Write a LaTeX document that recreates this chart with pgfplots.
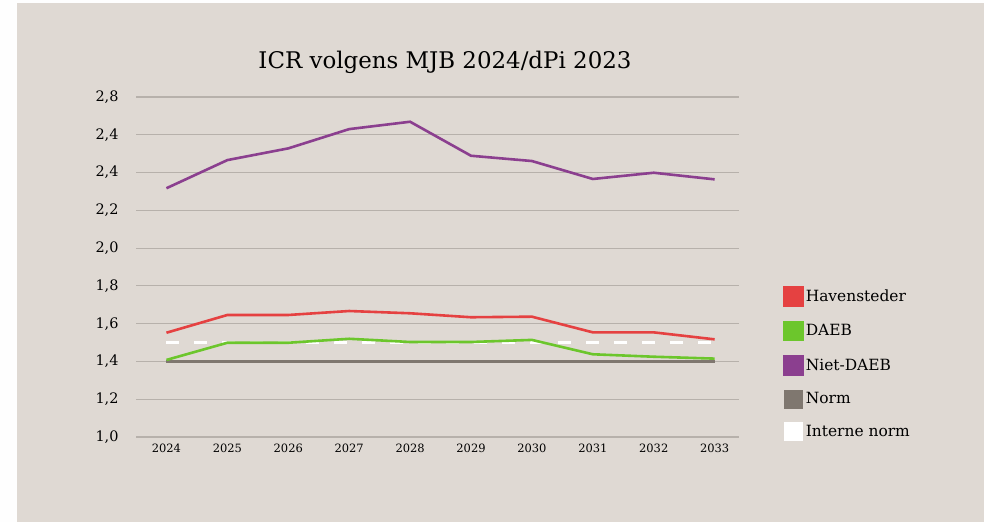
\documentclass[border=0pt]{standalone}
\usepackage{fontspec}
\setmainfont{DejaVu Serif}
\usepackage{pgfplots}
\pgfplotsset{compat=1.18}

\definecolor{bgpaper}{HTML}{DFD9D3}
\definecolor{havred}{HTML}{E54141}
\definecolor{daebgreen}{HTML}{6CC62C}
\definecolor{nietpurple}{HTML}{8B3F8F}
\definecolor{normgray}{HTML}{7F776F}
\definecolor{gridgray}{HTML}{B7B1AB}

\begin{document}
\begin{tikzpicture}[x=1bp,y=1bp]
% page and panel
\fill[white!97!bgpaper] (0,0) rectangle (984,-522);
\fill[bgpaper] (17,-3) rectangle (984,-522);

\node[font=\fontsize{23}{26}\selectfont] at (445,-62) {ICR volgens MJB 2024/dPi 2023};

\begin{axis}[
  at={(136bp,-437bp)}, anchor=south west,
  scale only axis,
  width=603bp, height=340bp,
  xmin=-0.5, xmax=9.4,
  ymin=1.0, ymax=2.8,
  xtick={0,...,9},
  xticklabels={2024,2025,2026,2027,2028,2029,2030,2031,2032,2033},
  ytick={1.0,1.2,1.4,1.6,1.8,2.0,2.2,2.4,2.6,2.8},
  yticklabels={{1,0},{1,2},{1,4},{1,6},{1,8},{2,0},{2,2},{2,4},{2,4},{2,8}},
  xticklabel style={font=\fontsize{11.5}{13}\selectfont, yshift=-3bp},
  yticklabel style={font=\fontsize{14.5}{16}\selectfont, xshift=-14bp},
  major tick length=0pt,
  axis x line*=bottom,
  axis y line*=left,
  x axis line style={gridgray, line width=1.2bp, -},
  y axis line style={draw=none},
  ymajorgrids,
  grid style={gridgray, line width=1.2bp},
  legend cell align=left,
  legend style={
    at={(1.073,0.445)}, anchor=north west,
    draw=none, fill=none,
    font=\fontsize{15.5}{17}\selectfont,
    row sep=14bp,
    inner sep=0pt,
  },
  legend image code/.code={\fill[#1, solid] (0bp,-9bp) rectangle (18bp,9bp);},
]
% Norm and interne norm, drawn underneath
\addplot[normgray, line width=3.5bp, forget plot] coordinates {
  (0,1.40) (1,1.40) (2,1.40) (3,1.40) (4,1.40) (5,1.40) (6,1.40) (7,1.40) (8,1.40) (9,1.40)
};
\addplot[white, line width=3bp, dash pattern=on 13bp off 15bp, forget plot] coordinates {
  (0,1.50) (1,1.50) (2,1.50) (3,1.50) (4,1.50) (5,1.50) (6,1.50) (7,1.50) (8,1.50) (9,1.50)
};

\addplot[havred, line width=2.6bp] coordinates {
  (0,1.552) (1,1.646) (2,1.646) (3,1.667) (4,1.655) (5,1.634) (6,1.637) (7,1.554) (8,1.554) (9,1.517)
};
\addlegendentry{Havensteder}
\addplot[daebgreen, line width=2.6bp] coordinates {
  (0,1.408) (1,1.499) (2,1.499) (3,1.520) (4,1.503) (5,1.503) (6,1.514) (7,1.438) (8,1.425) (9,1.415)
};
\addlegendentry{DAEB}
\addplot[nietpurple, line width=2.6bp] coordinates {
  (0,2.317) (1,2.466) (2,2.528) (3,2.630) (4,2.669) (5,2.489) (6,2.461) (7,2.366) (8,2.399) (9,2.364)
};
\addlegendentry{Niet-DAEB}
\addlegendimage{normgray}
\addlegendentry{Norm}
\addlegendimage{white}
\addlegendentry{Interne norm}
\end{axis}
\end{tikzpicture}
\end{document}
